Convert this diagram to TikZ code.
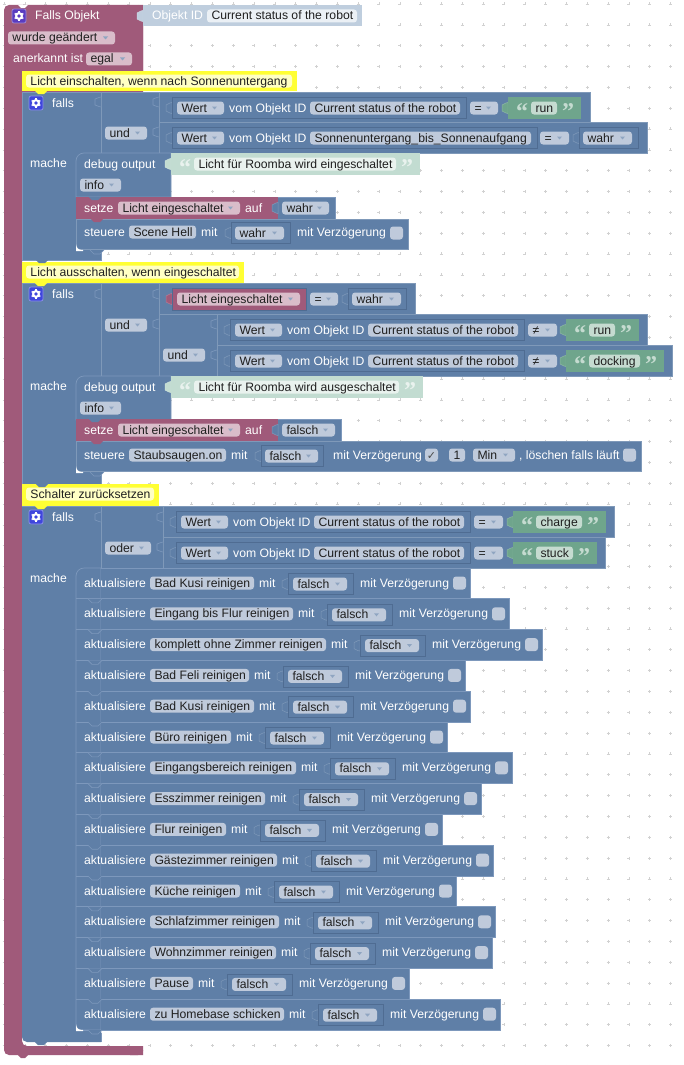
\documentclass[tikz,border=0pt]{standalone}
\usepackage{fontspec}
\setmainfont{Liberation Sans}
\newfontfamily\qfont{Liberation Serif}
\newfontfamily\djvfont{DejaVu Sans}
\definecolor{bl}{HTML}{5F7FA7}
\definecolor{bll}{HTML}{7D98BC}
\definecolor{bld}{HTML}{4F6C92}
\definecolor{mr}{HTML}{A05A7A}
\definecolor{mrl}{HTML}{B57D97}
\definecolor{gr}{HTML}{6FA58C}
\definecolor{pg}{HTML}{C2DCD1}
\definecolor{ob}{HTML}{BFCEDE}
\definecolor{fb}{HTML}{BFCADB}
\definecolor{fm}{HTML}{D9BDCA}
\definecolor{fg}{HTML}{C5DBD0}
\definecolor{fp}{HTML}{E9F2EE}
\definecolor{fo}{HTML}{EBF0F5}
\definecolor{yl}{HTML}{FFFF33}
\definecolor{fy}{HTML}{FFFFC4}
\definecolor{cogm}{HTML}{5A3CC0}
\definecolor{cogb}{HTML}{3F46DC}
\tikzset{
  lab/.style={anchor=base west,inner sep=0pt,font=\fontsize{12.2}{14}\selectfont},
  wlab/.style={lab,text=white},
  dlab/.style={lab,text=black!88},
  qmark/.style={anchor=base west,inner sep=0pt,font=\fontsize{24}{24}\qfont\bfseries},
  edge/.style={line width=0.7pt},
}
\newcount\nn
\newcommand\nxt{\global\advance\nn by 1\relax}
\newcommand\lb[3]{\nxt\node[wlab] (n\the\nn) at (#1,#2+4) {#3};}
\newcommand\blk[5]{\path[fill=#5,draw=#5!80!white,edge] (#1,#2) rectangle (#3,#4);}
\newcommand\fd[5]{\fill[#4,rounded corners=3pt] (#1,#3-6.5) rectangle (#2,#3+6.5);
  \nxt\node[dlab] (n\the\nn) at (#1+4.3,#3+4) {#5};}
\newcommand\dd[5]{\fd{#1}{#2}{#3}{#4}{#5}
  \fill[bl!70!white] (#2-12,#3-1.5) -- (#2-7,#3-1.5) -- (#2-9.5,#3+1.5) -- cycle;}
\newcommand\tb[3]{\path[fill=#3,draw=#3!80!white,line width=.5pt] (#1,#2-5.5) -- (#1-2,#2-5) -- (#1-6,#2-3) -- (#1-6,#2+3) -- (#1-2,#2+5) -- (#1,#2+5.5) -- cycle;}
\newcommand\jn[2]{\path[fill=bl,draw=bll,line width=.6pt] (#1,#2) -- (#1-2,#2+.5) -- (#1-6,#2+2) -- (#1-6,#2+8) -- (#1-2,#2+9.5) -- (#1,#2+10);}
\newcommand\slt[3]{\tb{#1}{#3}{bl}\path[draw=bld,fill=bl,line width=.6pt] (#1,#3-10.5) rectangle (#2,#3+10.5);}
\newcommand\qb[6]{% x1 yc f2 fillblock fillfield text
  \tb{#1}{#2}{#4}
  \fill[#4] (#1,#2-11) rectangle (#3+24,#2+11);
  \nxt\node[qmark,text=#5] (n\the\nn) at (#1+8,#2+11) {“};
  \fd{#1+23}{#3}{#2}{#5}{#6}
  \nxt\node[qmark,text=#5] (n\the\nn) at (#3+5,#2+11) {”};}
\newcommand\wrt[4]{% x slotright yc text: Wert vom Objekt ID
  \slt{#1}{#2}{#3}
  \dd{#1+5}{#1+52}{#3}{fb}{Wert}
  \lb{#1+57}{#3}{vom Objekt ID}
  \fd{#1+138}{#2-6}{#3}{fb}{#4}}
\newcommand\cog[3]{\path[fill=#3,draw=#3!60!white,line width=.7pt,rounded corners=2pt] (#1-7,#2-7) rectangle (#1+7,#2+7);
  \foreach \a in {30,90,150}{\draw[white,line width=1.5pt] (#1,#2)++(\a:5) -- ++(\a+180:10);}
  \fill[white] (#1,#2) circle (4);\fill[#3] (#1,#2) circle (1.9);}
\newcommand\ntc[3]{\path[fill=bl,draw=none] (#1,#2) -- (#1+4,#2+4) -- (#1+10,#2+4) -- (#1+14,#2) -- cycle;
  \draw[#3,line width=.6pt] (#1,#2) -- (#1+4,#2+4) -- (#1+10,#2+4) -- (#1+14,#2);}
\newcommand\tabd[3]{\fill[#3] (#1,#2) -- (#1+3,#2+3) -- (#1+9,#2+3) -- (#1+12,#2) -- cycle;}
\newcommand\wdg[2]{\fill[white] (#1,#2-6) .. controls (#1+.5,#2-2) and (#1+2,#2) .. (#1+7,#2) -- (#1+7,#2+1) -- (#1,#2+1) -- cycle;}
\newcommand\cmt[4]{% x2 y1 y2 text
  \fill[yl] (22,#2) rectangle (#1,#3);
  \fd{26}{#1-5}{#2+10}{fy}{#4}}
\newcommand\cb[2]{\fill[fb,rounded corners=3pt] (#1,#2-6.5) rectangle (#1+13,#2+6.5);}
\newcommand\dbg[3]{% ytop fieldright text
  \path[fill=bl,draw=bll,edge] (76,#1+44) -- (76,#1+8) arc[start angle=180,end angle=270,radius=8] -- (171,#1) -- (171,#1+44) -- cycle;
  \lb{84}{#1+11}{debug output}
  \dd{80}{121}{#1+32}{fb}{info}
  \qb{171}{#1+11}{#2}{pg}{fp}{#3}}
\newcommand\stz[3]{% ytop right-of-value text
  \fill[bl] (278,#1) rectangle (#2,#1+22);
  \draw[bll,edge] (278,#1) -- (#2,#1) -- (#2,#1+22) -- (278,#1+22);
  \fill[mr] (76,#1) rectangle (278,#1+22);
  \tabd{89}{#1}{bl}
  \lb{84}{#1+11}{setze}
  \dd{118}{240}{#1+11}{fm}{Licht eingeschaltet}
  \lb{245}{#1+11}{auf}
  \tb{278}{#1+11}{bl}
  \dd{282}{#2-6}{#1+11}{fb}{#3}}
\begin{document}
\begin{tikzpicture}[x=1pt,y=-1pt]
\useasboundingbox (0,0) rectangle (683,1065);
\fill[white] (0,0) rectangle (683,1065);
% grid
\foreach \i in {0,...,32}{\foreach \j in {0,...,51}{
  \pgfmathsetmacro\gx{4+20.83*\i}\pgfmathsetmacro\gy{4+20.83*\j}
  \draw[black!18,line width=.5pt] (\gx-1.5,\gy) -- (\gx+1.5,\gy) (\gx,\gy-1.5) -- (\gx,\gy+1.5);}}
% hat
\begin{scope}[rounded corners=5pt]
\path[fill=mr] (4,5) -- (143,5) -- (143,92) -- (22,92) -- (22,1046) -- (143,1046) -- (143,1055) -- (4,1055) -- cycle;
\end{scope}
\fill[mr] (138,5) rectangle (143,92) (130,1046) rectangle (143,1055);
\fill[white] (18,5) -- (21,8) -- (25,8) -- (28,5) -- cycle;
\fill[mr] (18,1055) -- (21,1058) -- (25,1058) -- (28,1055) -- cycle;
\cog{19}{16}{cogm}
\lb{35}{16}{Falls Objekt}
\tb{143}{16}{ob}
\fill[ob] (143,5) rectangle (362,26);
\lb{152}{16}{Objekt ID}
\fd{207}{357}{16}{fo}{Current status of the robot}
\dd{8}{115}{38}{fm}{wurde geändert}
\lb{13}{59}{anerkannt ist}
\dd{86}{132}{59}{fm}{egal}

% ---------- block 1
\path[fill=bl,draw=bll,edge] (22,92) -- (101,92) -- (101,260) -- (22,260) -- cycle;
\cmt{297}{71}{91}{Licht einschalten, wenn nach Sonnenuntergang}
\tabd{35}{91}{yl}
\cog{36}{103}{cogb}
\lb{52}{103}{falls}
\lb{30}{163}{mache}
\blk{101}{92}{159}{153}{bl}
\jn{101}{97}
\dd{105}{147}{133}{fb}{und}
\blk{159}{92}{590}{122}{bl}
\blk{159}{122}{647}{153}{bl}
\jn{159}{97}\jn{159}{127}
\wrt{172}{466}{108}{Current status of the robot}
\dd{470}{498}{108}{fb}{=}
\qb{508}{108}{557}{gr}{fg}{run}
\wrt{172}{537}{138}{Sonnenuntergang\_bis\_Sonnenaufgang}
\dd{540}{569}{138}{fb}{=}
\slt{579}{638}{138}
\dd{583}{632}{138}{fb}{wahr}
\dbg{153}{396}{Licht für Roomba wird eingeschaltet}
\stz{197}{335}{wahr}
\blk{76}{219}{408}{249}{bl}
\tabd{91}{219}{mr}
\lb{84}{232}{steuere}
\fd{129}{196}{232}{fb}{Scene Hell}
\lb{201}{232}{mit}
\slt{231}{290}{233}
\dd{235}{284}{233}{fb}{wahr}
\lb{297}{232}{mit Verzögerung}
\cb{390}{233}
\wdg{76}{250}
\ntc{90}{250}{bll}

% ---------- block 2
\path[fill=bl,draw=bll,edge] (22,283) -- (101,283) -- (101,484) -- (22,484) -- cycle;
\cmt{244}{262}{283}{Licht ausschalten, wenn eingeschaltet}
\tabd{36}{260}{bl}
\tabd{35}{283}{yl}
\cog{36}{294}{cogb}
\lb{52}{294}{falls}
\lb{30}{386}{mache}
\blk{101}{283}{159}{376}{bl}
\jn{101}{289}
\dd{105}{147}{325}{fb}{und}
\blk{159}{283}{415}{314}{bl}
\jn{159}{289}\jn{159}{319}
\tb{172}{299}{mr}
\path[fill=mr,draw=bld,line width=.6pt] (172,288) rectangle (306,310);
\dd{177}{300}{299}{fm}{Licht eingeschaltet}
\dd{310}{338}{299}{fb}{=}
\slt{348}{406}{299}
\dd{352}{401}{299}{fb}{wahr}
\blk{159}{314}{217}{376}{bl}
\dd{163}{205}{355}{fb}{und}
\blk{217}{314}{647}{345}{bl}
\blk{217}{345}{672}{376}{bl}
\jn{217}{319}\jn{217}{350}
\wrt{230}{524}{330}{Current status of the robot}
\dd{528}{557}{330}{fb}{≠}
\qb{566}{330}{615}{gr}{fg}{run}
\wrt{230}{524}{361}{Current status of the robot}
\dd{528}{557}{361}{fb}{≠}
\qb{566}{361}{640}{gr}{fg}{docking}
\dbg{376}{399}{Licht für Roomba wird ausgeschaltet}
\stz{419}{341}{falsch}
\blk{76}{441}{641}{471}{bl}
\tabd{91}{441}{mr}
\lb{84}{455}{steuere}
\fd{129}{226}{455}{fb}{Staubsaugen.on}
\lb{231}{455}{mit}
\slt{261}{323}{456}
\dd{265}{318}{456}{fb}{falsch}
\lb{333}{455}{mit Verzögerung}
\cb{425}{455}
\nxt\node[anchor=base,inner sep=0pt,font=\fontsize{11}{12}\djvfont,text=black!70] (n\the\nn) at (431.5,459.5) {✓};
\fd{449}{465}{455}{fb}{1}
\dd{473}{515}{455}{fb}{Min}
\lb{519}{455}{, löschen falls läuft}
\cb{623}{455}
\wdg{76}{472}
\ntc{90}{472}{bll}

% ---------- block 3
\begin{scope}[rounded corners=5pt]
\path[fill=bl] (22,506) -- (101,506) -- (101,1042) -- (22,1042) -- cycle;
\end{scope}
\fill[bl] (96,1030) rectangle (101,1042) (22,506) rectangle (101,520);
\draw[bll,edge] (22,506) -- (101,506) -- (101,568) (101,1033) -- (101,1042);
\cmt{159}{484}{506}{Schalter zurücksetzen}
\tabd{36}{484}{bl}
\tabd{35}{506}{yl}
\tabd{35}{1042}{bl}
\cog{36}{517}{cogb}
\lb{52}{517}{falls}
\lb{30}{578}{mache}
\blk{101}{506}{163}{568}{bl}
\jn{101}{512}
\dd{105}{151}{548}{fb}{oder}
\blk{163}{506}{614}{537}{bl}
\blk{163}{537}{605}{568}{bl}
\jn{163}{512}\jn{163}{542}
\wrt{176}{470}{522}{Current status of the robot}
\dd{474}{503}{522}{fb}{=}
\qb{513}{522}{582}{gr}{fg}{charge}
\wrt{176}{470}{553}{Current status of the robot}
\dd{474}{503}{553}{fb}{=}
\qb{513}{553}{573}{gr}{fg}{stuck}
\path[fill=bl,draw=bll,edge] (76,1030) -- (76,576) arc[start angle=180,end angle=270,radius=8] -- (101,568) -- (101,1030) -- cycle;
\foreach \i/\e/\nm in {0/254/Bad Kusi reinigen,1/293/Eingang bis Flur reinigen,2/326/komplett ohne Zimmer reinigen,3/249/Bad Feli reinigen,4/254/Bad Kusi reinigen,5/231/Büro reinigen,6/296/Eingangsbereich reinigen,7/265/Esszimmer reinigen,8/226/Flur reinigen,9/277/Gästezimmer reinigen,10/240/Küche reinigen,11/279/Schlafzimmer reinigen,12/276/Wohnzimmer reinigen,13/193/Pause,14/284/zu Homebase schicken}{
  \pgfmathsetmacro\ty{568+30.8*\i}
  \pgfmathsetmacro\by{\ty+30.8}
  \pgfmathsetmacro\yc{\ty+15}
  \pgfmathsetmacro\xr{\e+216}
  \path[fill=bl,draw=bll,edge] (101,\ty) -- (\xr,\ty) -- (\xr,\by) -- (101,\by);
  \ifnum\i>0 \draw[bll,edge] (76,\ty) -- (101,\ty);\ntc{88}{\ty}{bll}\fi
  \lb{84}{\yc}{aktualisiere}
  \fd{150}{\e}{\yc}{fb}{\nm}
  \lb{\e+5}{\yc}{mit}
  \slt{\e+34}{\e+99}{\yc+1}
  \dd{\e+39}{\e+93}{\yc+1}{fb}{falsch}
  \lb{\e+106}{\yc}{mit Verzögerung}
  \cb{\e+199}{\yc}
}
\draw[bll,edge] (76,1030) -- (501,1030);
\wdg{76}{1030}
\ntc{88}{1030}{bll}
\end{tikzpicture}
\end{document}
